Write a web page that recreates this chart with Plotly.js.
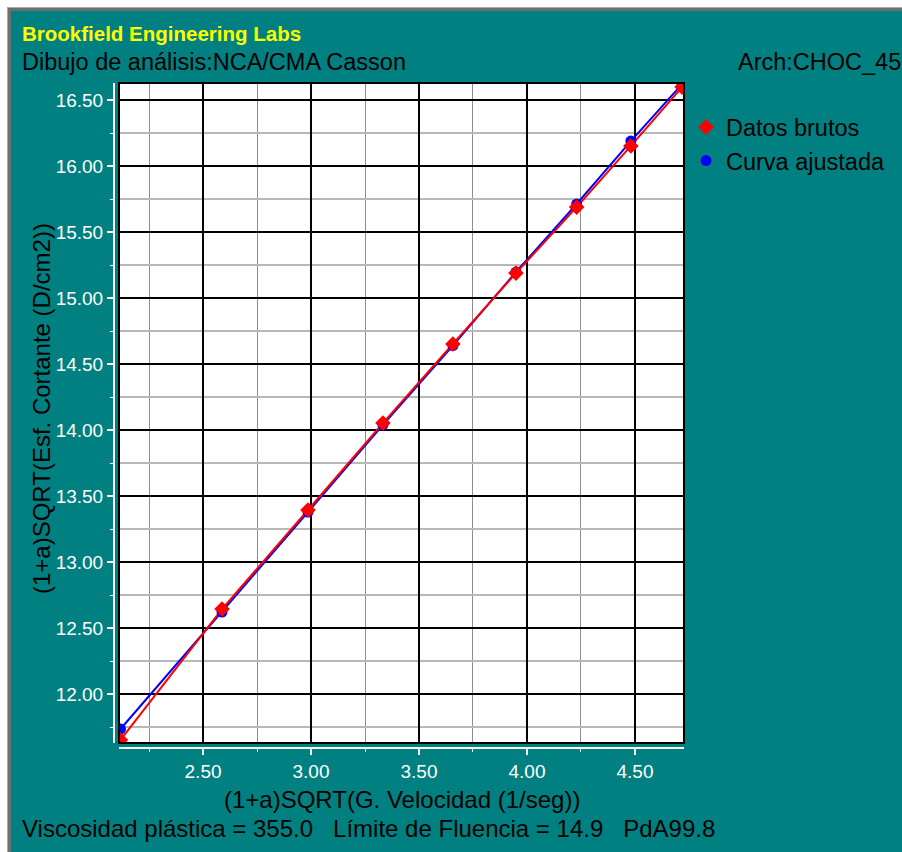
<!DOCTYPE html>
<html>
<head>
<meta charset="utf-8">
<script src="https://cdn.plot.ly/plotly-3.0.1.min.js"></script>
<style>
  html, body { margin: 0; padding: 0; background: #ffffff; width: 902px; height: 852px; overflow: hidden; }
  #frame { position: absolute; left: 7px; top: 7px; width: 895px; height: 845px; background: #6e6e6e; border-top: 1px solid #a8a8a8; border-left: 1px solid #a8a8a8; box-sizing: border-box; }
  #plot { position: absolute; left: 11px; top: 11px; width: 891px; height: 841px; }
</style>
</head>
<body>
<div id="frame"></div>
<div id="plot"></div>
<script>
// Data
const shearX = [2.118, 2.588, 2.986, 3.333, 3.657, 3.949, 4.230, 4.481, 4.718];
const rawY   = [11.652, 12.644, 13.394, 14.053, 14.652, 15.189, 15.689, 16.152, 16.598];
const fitY   = [11.735, 12.621, 13.379, 14.040, 14.640, 15.197, 15.712, 16.189, 16.621];

const seriesNames = ["Datos brutos", "Curva ajustada"];
const headerTitle = "Brookfield Engineering Labs";
const subTitle = "Dibujo de análisis:NCA/CMA Casson";
const fileLabel = "Arch:CHOC_45";
const xTitle = "(1+a)SQRT(G. Velocidad (1/seg))";
const yTitle = "(1+a)SQRT(Esf. Cortante (D/cm2))";
const footer = "Viscosidad plástica = 355.0\u00A0\u00A0\u00A0Límite de Fluencia = 14.9\u00A0\u00A0\u00A0PdA99.8";

const xRange = [2.111, 4.727];
const yRange = [11.629, 16.629];

const FONT = "Liberation Sans, Arial, sans-serif";
const W = 570, H = 665, OFF = 5;

const traces = [
  { x: shearX, y: fitY, mode: "lines", line: { color: "#0000ff", width: 2 }, showlegend: false, hoverinfo: "skip" },
  { x: shearX, y: rawY, mode: "lines", line: { color: "#ff0000", width: 2 }, showlegend: false, hoverinfo: "skip" },
  { x: shearX, y: fitY, mode: "markers", name: seriesNames[1], legendrank: 2,
    marker: { symbol: "circle", size: 11, color: "#0000ff" } },
  { x: shearX, y: rawY, mode: "markers", name: seriesNames[0], legendrank: 1,
    marker: { symbol: "diamond", size: 12, color: "#ff0000" } },
  { x: [], y: [], xaxis: "x2", yaxis: "y2", showlegend: false, hoverinfo: "skip" }
];

const tickStyle = {
  ticks: "outside", ticklen: 6, tickwidth: 2, tickcolor: "#ffffff",
  showline: true, linecolor: "#ffffff", linewidth: 2,
  tickfont: { family: FONT, size: 19, color: "#ffffff" },
  tickformat: ".2f", showgrid: false, zeroline: false
};

const layout = {
  width: 891, height: 841,
  margin: { l: 103, r: 218, t: 72, b: 104 },
  paper_bgcolor: "#008080",
  plot_bgcolor: "#ffffff",
  showlegend: true,
  legend: {
    x: 1.0035, xanchor: "left", y: 0.9665, yanchor: "top",
    bgcolor: "rgba(0,0,0,0)", borderwidth: 0,
    font: { family: FONT, size: 23.5, color: "#000000" },
    tracegroupgap: 0
  },
  xaxis: {
    domain: [OFF / W, 1], range: xRange, autorange: false,
    tick0: 2.5, dtick: 0.5, showticklabels: false, ticks: "",
    showgrid: true, gridcolor: "#000000", gridwidth: 2, zeroline: false, showline: false,
    minor: { dtick: 0.25, tick0: 2.25, showgrid: true, gridcolor: "#8c8c8c", gridwidth: 1 }
  },
  yaxis: {
    domain: [OFF / H, 1], range: yRange, autorange: false,
    tick0: 12, dtick: 0.5, showticklabels: false, ticks: "",
    showgrid: true, gridcolor: "#000000", gridwidth: 2, zeroline: false, showline: false,
    minor: { dtick: 0.25, tick0: 11.75, showgrid: true, gridcolor: "#b8b8b8", gridwidth: 1.5 }
  },
  xaxis2: Object.assign({}, tickStyle, {
    overlaying: "x", anchor: "free", position: 0, range: xRange, autorange: false,
    tick0: 2.5, dtick: 0.5,
    minor: { ticks: "outside", ticklen: 3, tickwidth: 1, tickcolor: "#ffffff", dtick: 0.25, tick0: 2.25, showgrid: false }
  }),
  yaxis2: Object.assign({}, tickStyle, {
    overlaying: "y", anchor: "free", position: 0, side: "left", range: yRange, autorange: false,
    tick0: 12, dtick: 0.5,
    minor: { ticks: "outside", ticklen: 3, tickwidth: 1, tickcolor: "#ffffff", dtick: 0.25, tick0: 11.75, showgrid: false }
  }),
  shapes: [
    { type: "rect", xref: "paper", yref: "paper", x0: OFF / W, x1: 1, y0: OFF / H, y1: 1,
      line: { color: "#000000", width: 2 }, fillcolor: "rgba(0,0,0,0)", layer: "above" }
  ],
  annotations: [
    { text: "<b>" + headerTitle + "</b>", xref: "paper", yref: "paper", x: -0.165, y: 1.0737,
      xanchor: "left", yanchor: "middle", showarrow: false,
      font: { family: FONT, size: 20.5, color: "#ffff00" } },
    { text: subTitle, xref: "paper", yref: "paper", x: -0.165, y: 1.0316,
      xanchor: "left", yanchor: "middle", showarrow: false,
      font: { family: FONT, size: 23.5, color: "#000000" } },
    { text: fileLabel, xref: "paper", yref: "paper", x: 1.091, y: 1.0316,
      xanchor: "left", yanchor: "middle", showarrow: false,
      font: { family: FONT, size: 23.5, color: "#000000" } },
    { text: xTitle, xref: "paper", yref: "paper", x: 0.505, y: -0.078,
      xanchor: "center", yanchor: "middle", showarrow: false,
      font: { family: FONT, size: 24, color: "#000000" } },
    { text: yTitle, xref: "paper", yref: "paper", x: -0.126, y: 0.51, textangle: -90,
      xanchor: "center", yanchor: "middle", showarrow: false,
      font: { family: FONT, size: 24, color: "#000000" } },
    { text: footer, xref: "paper", yref: "paper", x: -0.165, y: -0.1218,
      xanchor: "left", yanchor: "middle", showarrow: false,
      font: { family: FONT, size: 24, color: "#000000" } }
  ]
};

Plotly.newPlot("plot", traces, layout, { displayModeBar: false, staticPlot: true });
</script>
</body>
</html>
